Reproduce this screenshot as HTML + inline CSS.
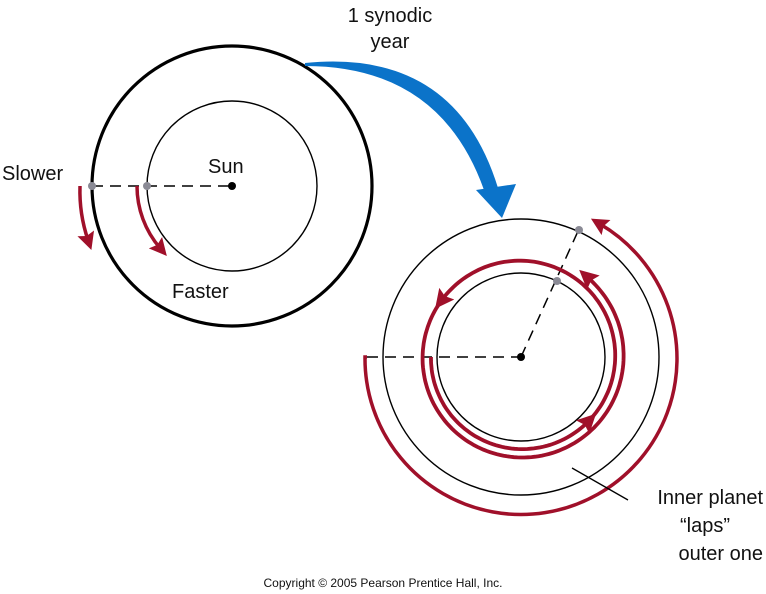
<!DOCTYPE html>
<html><head><meta charset="utf-8"><style>
body{margin:0;background:#fff;width:766px;height:594px;overflow:hidden}
svg{display:block}
text{font-family:"Liberation Sans",Arial,sans-serif;fill:#111}
</style></head><body>
<svg id="s" width="766" height="594" viewBox="0 0 766 594">
<defs>
<marker id="ah" markerWidth="6" markerHeight="6" refX="2" refY="2.5" orient="auto" markerUnits="strokeWidth">
<path d="M0,0 L5,2.5 L0,5 L0.8,2.5 Z" fill="#a0102a"/></marker>
</defs>
<text x="390" y="22" font-size="20" text-anchor="middle">1 synodic</text>
<text x="390" y="48" font-size="20" text-anchor="middle">year</text>
<!-- left diagram -->
<circle cx="232" cy="186" r="140" fill="none" stroke="#000" stroke-width="3.2"/>
<circle cx="232" cy="186" r="85" fill="none" stroke="#000" stroke-width="1.4"/>
<line x1="92" y1="186" x2="232" y2="186" stroke="#000" stroke-width="1.5" stroke-dasharray="11,7"/>
<circle cx="92" cy="186" r="4" fill="#8a8a95"/>
<circle cx="147" cy="186" r="4" fill="#8a8a95"/>
<circle cx="232" cy="186" r="4" fill="#000"/>
<path d="M80,186 A152,152 0 0 0 88,240" fill="none" stroke="#a0102a" stroke-width="3.5" marker-end="url(#ah)"/>
<path d="M137,186 A95,95 0 0 0 160,248" fill="none" stroke="#a0102a" stroke-width="3.5" marker-end="url(#ah)"/>
<text x="2" y="180" font-size="20">Slower</text>
<text x="208" y="173" font-size="20">Sun</text>
<text x="172" y="298" font-size="20">Faster</text>
<!-- blue arrow -->
<path d="M305,63 Q455,48 498,188 L484,190 Q440,66 305,66 Z" fill="#0b73c9"/>
<path d="M476,190 L516,184 L502,218 Z" fill="#0b73c9"/>
<!-- right diagram -->
<circle cx="521" cy="357" r="138" fill="none" stroke="#000" stroke-width="1.4"/>
<circle cx="521" cy="357" r="84" fill="none" stroke="#000" stroke-width="1.4"/>
<line x1="367" y1="357" x2="521" y2="357" stroke="#000" stroke-width="1.5" stroke-dasharray="11,7"/>
<line x1="521" y1="357" x2="579" y2="229" stroke="#000" stroke-width="1.5" stroke-dasharray="11,7"/>
<circle cx="579" cy="230" r="4" fill="#8a8a95"/>
<circle cx="557" cy="281" r="4" fill="#8a8a95"/>
<circle cx="521" cy="357" r="4" fill="#000"/>
<path d="M367,357 L365,357 A156,156 0 1 0 600,224" fill="none" stroke="#a0102a" stroke-width="3.5" marker-end="url(#ah)"/>
<g id="spiral"></g>
<line x1="572" y1="468" x2="628" y2="500" stroke="#000" stroke-width="1.3"/>
<text x="763" y="504" font-size="20" text-anchor="end">Inner planet</text>
<text x="705" y="532" font-size="20" text-anchor="middle">“laps”</text>
<text x="763" y="560" font-size="20" text-anchor="end">outer one</text>
<text x="383" y="587" font-size="12" text-anchor="middle">Copyright © 2005 Pearson Prentice Hall, Inc.</text>
</svg>
<script>
(function(){
var cx=521,cy=357,g=document.getElementById('spiral');
function P(s){var r=90+14*s/600;var a=(180-s)*Math.PI/180;return [cx+r*Math.cos(a),cy+r*Math.sin(a)];}
function seg(a,b,arrow){var d='';for(var s=a;s<=b;s+=2){var p=P(s);d+=(s==a?'M':'L')+p[0].toFixed(1)+','+p[1].toFixed(1);}
var e=document.createElementNS('http://www.w3.org/2000/svg','path');e.setAttribute('d',d);e.setAttribute('fill','none');e.setAttribute('stroke','#a0102a');e.setAttribute('stroke-width','3.8');if(arrow)e.setAttribute('marker-end','url(#ah)');g.appendChild(e);}
seg(0,136,true);seg(140,324,true);seg(328,590,true);
})();
</script>
</body></html>
